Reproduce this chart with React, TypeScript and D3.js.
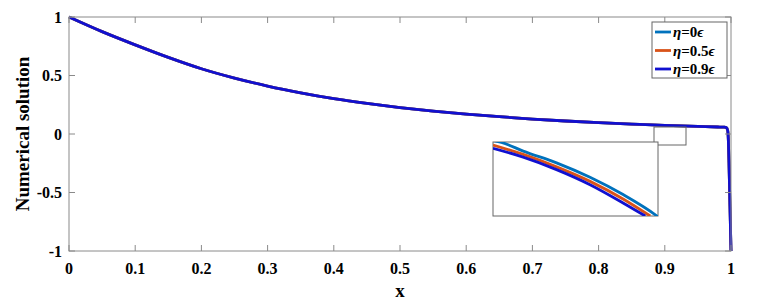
import { useEffect, useRef } from "react";
import * as d3 from "d3";

// main curve
const xValues = [
  0, 0.05, 0.1, 0.15, 0.2, 0.25, 0.3, 0.35, 0.4, 0.45, 0.5, 0.55, 0.6, 0.65,
  0.7, 0.75, 0.8, 0.85, 0.9, 0.95, 0.98, 0.99, 0.993, 0.995, 0.996, 0.997,
  0.998, 0.999, 1,
];
const eta0 = [
  1, 0.875, 0.762, 0.655, 0.558, 0.478, 0.41, 0.352, 0.302, 0.261, 0.226,
  0.196, 0.17, 0.148, 0.128, 0.111, 0.097, 0.085, 0.074, 0.065, 0.06, 0.058,
  0.055, 0.03, -0.05, -0.25, -0.5, -0.75, -1,
];
const eta05 = eta0.slice();
const eta09 = eta0.slice();

// zoomed inset (normalized box coords)
const insetX = [0, 0.051, 0.183, 0.385, 0.588, 0.791, 0.994, 1];
const insetEta0 = [1.02, 0.995, 0.877, 0.718, 0.523, 0.286, 0, -0.01];
const insetXo = [0, 0.183, 0.385, 0.588, 0.791, 0.953];
const insetEta05 = [0.959, 0.832, 0.664, 0.468, 0.227, 0];
const insetXb = [0, 0.183, 0.385, 0.588, 0.791, 0.923];
const insetEta09 = [0.914, 0.795, 0.627, 0.423, 0.173, 0];

const xTicks = [0, 0.1, 0.2, 0.3, 0.4, 0.5, 0.6, 0.7, 0.8, 0.9, 1];
const yTicks = [-1, -0.5, 0, 0.5, 1];

const seriesNames = ["0", "0.5", "0.9"];
const colors = ["#0072BD", "#D95319", "#1010d0"];

const App = () => {
  const canvas = useRef<SVGSVGElement>(null);

  useEffect(() => {
    const svg = d3.select(canvas.current);
    svg.selectAll("*").remove();

    const margin = { top: 17, right: 31, bottom: 52, left: 69 };
    const width = 762;
    const height = 303;
    const font = "Liberation Serif";
    const axisColor = "#8a8a8a";

    const xScale = d3.scaleLinear().domain([0, 1]).range([margin.left, width - margin.right]);
    const yScale = d3.scaleLinear().domain([-1, 1]).range([height - margin.bottom, margin.top]);

    const series = [eta0, eta05, eta09];
    const line = d3
      .line<number>()
      .x((d, i) => xScale(xValues[i]))
      .y((d) => yScale(d))
      .curve(d3.curveMonotoneX);

    // curves
    series.forEach((s, k) => {
      svg
        .append("path")
        .datum(s)
        .attr("fill", "none")
        .attr("stroke", colors[k])
        .attr("stroke-width", 2.8)
        .attr("d", line);
    });

    // axes box
    const x0 = xScale(0), x1 = xScale(1), y0 = yScale(-1), y1 = yScale(1);
    svg
      .append("rect")
      .attr("x", x0)
      .attr("y", y1)
      .attr("width", x1 - x0)
      .attr("height", y0 - y1)
      .attr("fill", "none")
      .attr("stroke", axisColor)
      .attr("stroke-width", 1);

    const tickLen = 6;
    xTicks.forEach((t) => {
      const px = xScale(t);
      svg.append("line").attr("x1", px).attr("x2", px).attr("y1", y0).attr("y2", y0 - tickLen).attr("stroke", axisColor);
      svg.append("line").attr("x1", px).attr("x2", px).attr("y1", y1).attr("y2", y1 + tickLen).attr("stroke", axisColor);
      svg
        .append("text")
        .attr("x", px)
        .attr("y", y0 + 23)
        .attr("text-anchor", "middle")
        .style("font-family", font)
        .attr("font-weight", "bold")
        .attr("font-size", 16)
        .text(String(t));
    });
    yTicks.forEach((t) => {
      const py = yScale(t);
      svg.append("line").attr("x1", x0).attr("x2", x0 + tickLen).attr("y1", py).attr("y2", py).attr("stroke", axisColor);
      svg.append("line").attr("x1", x1).attr("x2", x1 - tickLen).attr("y1", py).attr("y2", py).attr("stroke", axisColor);
      svg
        .append("text")
        .attr("x", x0 - 7)
        .attr("y", py)
        .attr("dy", "0.35em")
        .attr("text-anchor", "end")
        .style("font-family", font)
        .attr("font-weight", "bold")
        .attr("font-size", 16)
        .text(String(t));
    });

    // axis labels
    svg
      .append("text")
      .attr("x", (x0 + x1) / 2)
      .attr("y", 297)
      .attr("text-anchor", "middle")
      .style("font-family", font)
      .attr("font-weight", "bold")
      .attr("font-size", 19)
      .text("x");
    svg
      .append("text")
      .attr("transform", `translate(29, ${(y0 + y1) / 2}) rotate(-90)`)
      .attr("text-anchor", "middle")
      .style("font-family", font)
      .attr("font-weight", "bold")
      .attr("font-size", 19)
      .text("Numerical solution");

    // small zoom box
    svg
      .append("rect")
      .attr("x", 654)
      .attr("y", 127)
      .attr("width", 32)
      .attr("height", 18)
      .attr("fill", "none")
      .attr("stroke", "#666")
      .attr("stroke-width", 1);

    // inset
    const inset = { x: 493, y: 142, w: 165, h: 74 };
    const ix = d3.scaleLinear().domain([0, 1]).range([inset.x, inset.x + inset.w]);
    const iy = d3.scaleLinear().domain([0, 1]).range([inset.y + inset.h, inset.y]);
    svg
      .append("rect")
      .attr("x", inset.x)
      .attr("y", inset.y)
      .attr("width", inset.w)
      .attr("height", inset.h)
      .attr("fill", "white")
      .attr("stroke", "#666")
      .attr("stroke-width", 1);
    svg
      .append("clipPath")
      .attr("id", "insetClip")
      .append("rect")
      .attr("x", inset.x)
      .attr("y", inset.y)
      .attr("width", inset.w)
      .attr("height", inset.h);
    const insetSeries: [number[], number[]][] = [
      [insetX, insetEta0],
      [insetXo, insetEta05],
      [insetXb, insetEta09],
    ];
    insetSeries.forEach(([xs, ys], k) => {
      const l = d3
        .line<number>()
        .x((d, i) => ix(xs[i]))
        .y((d) => iy(d))
        .curve(d3.curveMonotoneX);
      svg
        .append("path")
        .datum(ys)
        .attr("clip-path", "url(#insetClip)")
        .attr("fill", "none")
        .attr("stroke", colors[k])
        .attr("stroke-width", 2.8)
        .attr("d", l);
    });

    // legend
    const lg = svg.append("g");
    lg.append("rect")
      .attr("x", 652)
      .attr("y", 22)
      .attr("width", 75)
      .attr("height", 56)
      .attr("fill", "white")
      .attr("stroke", "#666")
      .attr("stroke-width", 1);
    seriesNames.forEach((name, k) => {
      const yy = 32 + k * 18.5;
      lg.append("line")
        .attr("x1", 655)
        .attr("x2", 671)
        .attr("y1", yy)
        .attr("y2", yy)
        .attr("stroke", colors[k])
        .attr("stroke-width", 2.8);
      const t = lg
        .append("text")
        .attr("x", 673)
        .attr("y", yy)
        .attr("dy", "0.35em")
        .style("font-family", font)
        .attr("font-weight", "bold")
        .attr("font-size", 15);
      t.append("tspan").attr("font-style", "italic").text("η");
      t.append("tspan").text("=" + name);
      t.append("tspan").attr("font-style", "italic").text("ϵ");
    });
  }, []);

  return (
    <svg
      ref={canvas}
      width={762}
      height={303}
      style={{ position: "absolute", left: 0, top: 0, background: "white" }}
    />
  );
};

export default App;
